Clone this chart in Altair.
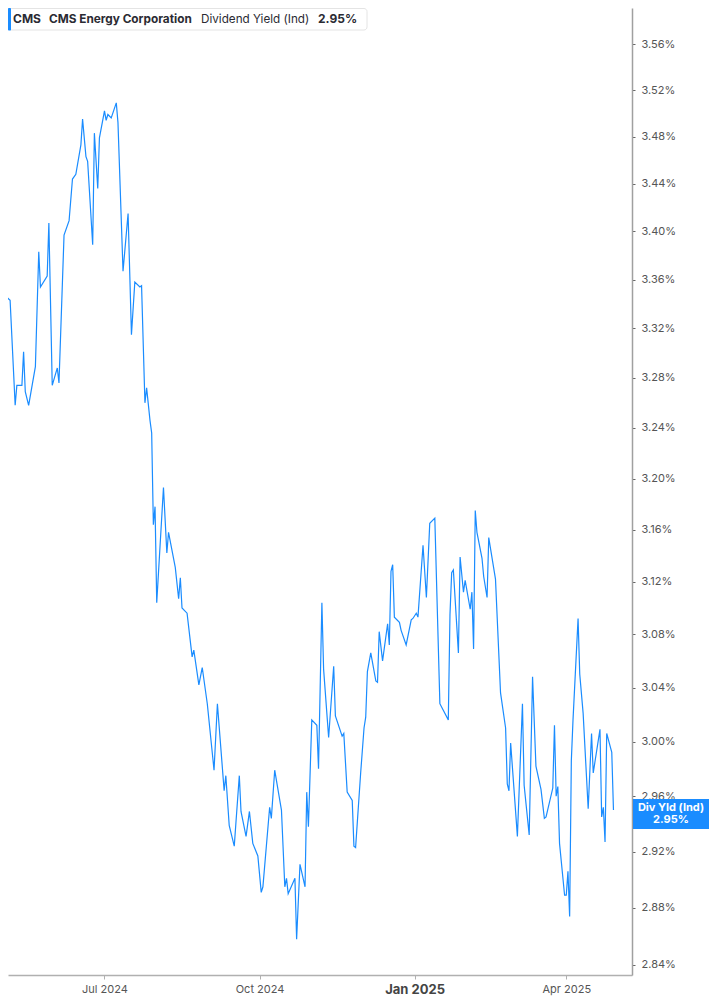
import altair as alt
import pandas as pd

# ---------------- data ----------------
dates = [
    "2024-04-30", "2024-05-03", "2024-05-06", "2024-05-09", "2024-05-10", "2024-05-13", "2024-05-14", "2024-05-15", "2024-05-17", "2024-05-21",
    "2024-05-23", "2024-05-24", "2024-05-28", "2024-05-29", "2024-05-31", "2024-06-03", "2024-06-04", "2024-06-07", "2024-06-10", "2024-06-12",
    "2024-06-14", "2024-06-17", "2024-06-18", "2024-06-20", "2024-06-21", "2024-06-24", "2024-06-25", "2024-06-27", "2024-06-28", "2024-07-01",
    "2024-07-02", "2024-07-03", "2024-07-05", "2024-07-08", "2024-07-09", "2024-07-12", "2024-07-15", "2024-07-17", "2024-07-19", "2024-07-22",
    "2024-07-23", "2024-07-25", "2024-07-26", "2024-07-28", "2024-07-29", "2024-07-30", "2024-07-31", "2024-08-01", "2024-08-05", "2024-08-07",
    "2024-08-08", "2024-08-12", "2024-08-14", "2024-08-15", "2024-08-16", "2024-08-19", "2024-08-22", "2024-08-23", "2024-08-26", "2024-08-28",
    "2024-08-31", "2024-09-04", "2024-09-06", "2024-09-10", "2024-09-11", "2024-09-13", "2024-09-16", "2024-09-17", "2024-09-19", "2024-09-20",
    "2024-09-23", "2024-09-25", "2024-09-27", "2024-09-30", "2024-10-02", "2024-10-03", "2024-10-07", "2024-10-08", "2024-10-10", "2024-10-14",
    "2024-10-16", "2024-10-17", "2024-10-18", "2024-10-22", "2024-10-23", "2024-10-25", "2024-10-28", "2024-10-29", "2024-10-30", "2024-11-01",
    "2024-11-04", "2024-11-05", "2024-11-07", "2024-11-08", "2024-11-11", "2024-11-14", "2024-11-15", "2024-11-19", "2024-11-20", "2024-11-22",
    "2024-11-25", "2024-11-26", "2024-11-27", "2024-11-30", "2024-12-02", "2024-12-03", "2024-12-04", "2024-12-06", "2024-12-09", "2024-12-10",
    "2024-12-11", "2024-12-13", "2024-12-16", "2024-12-17", "2024-12-18", "2024-12-19", "2024-12-20", "2024-12-23", "2024-12-24", "2024-12-27",
    "2024-12-30", "2024-12-31", "2025-01-02", "2025-01-03", "2025-01-06", "2025-01-08", "2025-01-10", "2025-01-13", "2025-01-16", "2025-01-21",
    "2025-01-22", "2025-01-23", "2025-01-24", "2025-01-27", "2025-01-28", "2025-01-30", "2025-01-31", "2025-02-03", "2025-02-04", "2025-02-05",
    "2025-02-06", "2025-02-07", "2025-02-10", "2025-02-11", "2025-02-13", "2025-02-14", "2025-02-18", "2025-02-21", "2025-02-24", "2025-02-25",
    "2025-02-26", "2025-02-27", "2025-03-03", "2025-03-06", "2025-03-07", "2025-03-10", "2025-03-12", "2025-03-14", "2025-03-17", "2025-03-19",
    "2025-03-20", "2025-03-24", "2025-03-25", "2025-03-26", "2025-03-27", "2025-03-28", "2025-03-31", "2025-04-01", "2025-04-02", "2025-04-03",
    "2025-04-04", "2025-04-05", "2025-04-08", "2025-04-09", "2025-04-11", "2025-04-14", "2025-04-16", "2025-04-17", "2025-04-21", "2025-04-22",
    "2025-04-23", "2025-04-24", "2025-04-25", "2025-04-28", "2025-04-29",
]

yields = [
    3.398, 3.347, 3.343, 3.258, 3.274, 3.274, 3.301, 3.269, 3.258, 3.289,
    3.383, 3.354, 3.363, 3.407, 3.274, 3.288, 3.276, 3.397, 3.409, 3.444,
    3.448, 3.473, 3.495, 3.463, 3.459, 3.389, 3.483, 3.436, 3.479, 3.502,
    3.494, 3.499, 3.496, 3.509, 3.492, 3.367, 3.415, 3.315, 3.358, 3.354,
    3.355, 3.260, 3.272, 3.246, 3.236, 3.164, 3.178, 3.104, 3.193, 3.142,
    3.158, 3.131, 3.107, 3.123, 3.100, 3.096, 3.063, 3.068, 3.042, 3.055,
    3.028, 2.979, 3.028, 2.964, 2.975, 2.939, 2.924, 2.941, 2.975, 2.949,
    2.931, 2.949, 2.926, 2.917, 2.891, 2.895, 2.952, 2.944, 2.979, 2.950,
    2.895, 2.901, 2.890, 2.901, 2.858, 2.911, 2.895, 2.963, 2.938, 3.016,
    3.012, 2.980, 3.104, 3.054, 3.003, 3.056, 3.019, 3.004, 3.006, 2.963,
    2.957, 2.924, 2.923, 2.977, 3.010, 3.018, 3.052, 3.066, 3.045, 3.044,
    3.082, 3.060, 3.088, 3.072, 3.128, 3.133, 3.093, 3.089, 3.083, 3.072,
    3.091, 3.092, 3.096, 3.093, 3.148, 3.108, 3.165, 3.169, 3.028, 3.016,
    3.095, 3.127, 3.129, 3.066, 3.139, 3.112, 3.121, 3.099, 3.112, 3.069,
    3.175, 3.158, 3.138, 3.124, 3.108, 3.154, 3.122, 3.036, 3.010, 2.969,
    2.964, 2.999, 2.931, 3.028, 2.968, 2.932, 3.048, 2.982, 2.965, 2.944,
    2.945, 2.966, 3.012, 2.960, 2.967, 2.926, 2.889, 2.889, 2.906, 2.874,
    2.986, 3.016, 3.092, 3.050, 3.021, 2.951, 3.006, 2.977, 3.009, 2.945,
    2.952, 2.927, 3.006, 2.992, 2.950,
]

y_ticks = [2.84, 2.88, 2.92, 2.96, 3.00, 3.04, 3.08, 3.12, 3.16, 3.20,
           3.24, 3.28, 3.32, 3.36, 3.40, 3.44, 3.48, 3.52, 3.56]

legend_texts = ["CMS", "CMS Energy Corporation", "Dividend Yield (Ind)", "2.95%"]
legend_bold = [True, True, False, True]
last_label = ["Div Yld (Ind)", "2.95%"]

BLUE = "#1a8cff"
FONT = "Inter"

df = pd.DataFrame({"date": dates, "yield": yields})
last_df = pd.DataFrame({"date": [dates[-1]], "yield": [yields[-1]]})
one = pd.DataFrame({"a": [0]})

x_scale = alt.Scale(
    type="utc",
    domain=[alt.DateTime(year=2024, month=5, date=4, hours=18, utc=True),
            alt.DateTime(year=2025, month=5, date=10, utc=True)],
)
y_scale = alt.Scale(type="log", domain=[2.833, 3.5916], nice=False, zero=False)

JAN = "utcmonth(datum.value) === 0"
x_axis = alt.Axis(
    values=[alt.DateTime(year=2024, month=7, date=1, utc=True),
            alt.DateTime(year=2024, month=10, date=1, utc=True),
            alt.DateTime(year=2025, month=1, date=1, utc=True),
            alt.DateTime(year=2025, month=4, date=1, utc=True)],
    format="%b %Y",
    title=None,
    grid=False,
    domainColor="#b0b0b0",
    domainWidth=1.5,
    tickColor="#b0b0b0",
    tickSize=4,
    labelPadding=4,
    labelFont=FONT,
    labelFontSize={"condition": {"test": JAN, "value": 13}, "value": 11},
    labelFontWeight={"condition": {"test": JAN, "value": "bold"}, "value": "normal"},
    labelColor={"condition": {"test": JAN, "value": "#444444"}, "value": "#555555"},
)

y_axis = alt.Axis(
    orient="right",
    values=y_ticks,
    labelExpr="format(datum.value, '.2f') + '%'",
    title=None,
    grid=False,
    domainColor="#a0a0a0",
    domainWidth=1.5,
    tickColor="#666666",
    tickSize=3,
    labelPadding=6,
    labelFont=FONT,
    labelFontSize=11,
    labelColor="#555555",
)

line = alt.Chart(df).mark_line(color=BLUE, strokeWidth=1.2, clip=True).encode(
    x=alt.X("date:T", scale=x_scale, axis=x_axis),
    y=alt.Y("yield:Q", scale=y_scale, axis=y_axis),
)

# end-of-series label box
end_box = alt.Chart(last_df).mark_rule(color=BLUE, strokeWidth=30, strokeCap="butt", yOffset=4).encode(
    x=alt.value(625), x2=alt.value(701), y=alt.Y("yield:Q", scale=y_scale)
)
end_t1 = alt.Chart(last_df).mark_text(
    color="white", font=FONT, fontSize=11, fontWeight="bold", dy=-2, align="center", baseline="middle"
).encode(x=alt.value(663), y=alt.Y("yield:Q", scale=y_scale), text=alt.value(last_label[0]))
end_t2 = alt.Chart(last_df).mark_text(
    color="white", font=FONT, fontSize=11, fontWeight="bold", dy=10, align="center", baseline="middle"
).encode(x=alt.value(663), y=alt.Y("yield:Q", scale=y_scale), text=alt.value(last_label[1]))

# legend box at top-left
leg_box = alt.Chart(one).mark_rect(fill="white", stroke="#e4e4e4", strokeWidth=1, cornerRadius=3).encode(
    x=alt.value(0.5), x2=alt.value(359), y=alt.value(0.5), y2=alt.value(22)
)
leg_bar = alt.Chart(one).mark_rect(fill=BLUE, cornerRadius=1).encode(
    x=alt.value(0), x2=alt.value(3), y=alt.value(0), y2=alt.value(22.5)
)
leg_x = [5, 41, 193, 310]
leg_size = [12, 11.8, 11.7, 12]
leg_layers = []
for t, b, xx, fs in zip(legend_texts, legend_bold, leg_x, leg_size):
    leg_layers.append(
        alt.Chart(one).mark_text(
            font=FONT, fontSize=fs, fontWeight="bold" if b else "normal",
            color="#2b2b33", align="left", baseline="middle"
        ).encode(x=alt.value(xx), y=alt.value(10.5), text=alt.value(t))
    )

chart = alt.layer(line, end_box, end_t1, end_t2, leg_box, leg_bar, *leg_layers).properties(
    width=624, height=967, background="white",
    autosize=alt.AutoSizeParams(type="none"),
    padding={"left": 0, "top": 0, "right": 77, "bottom": 22},
).configure_view(stroke=None)

chart.save("out.html", embed_options={"renderer": "svg", "actions": False})
